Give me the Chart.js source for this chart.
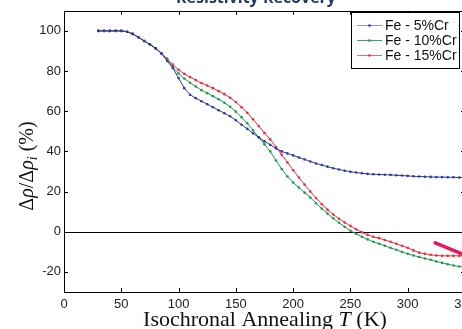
<!DOCTYPE html>
<html>
<head>
<meta charset="utf-8">
<script src="https://cdn.jsdelivr.net/npm/chart.js@4.4.1/dist/chart.umd.min.js"></script>
<style>
  html, body { margin: 0; padding: 0; background: #fff; overflow: hidden; }
  #wrap { position: absolute; left: 0; top: 0; width: 500px; height: 329px; }
</style>
</head>
<body>
<div id="wrap"><canvas id="chart" width="500" height="329"></canvas></div>
<script>
// isochronal annealing temperatures (K), one point every 5 K
const temps = [30, 35, 40, 45, 50, 55, 60, 65, 70, 75, 80, 85, 90, 95, 100, 105, 110, 115, 120, 125,
    130, 135, 140, 145, 150, 155, 160, 165, 170, 175, 180, 185, 190, 195, 200, 205, 210, 215, 220, 225,
    230, 235, 240, 245, 250, 255, 260, 265, 270, 275, 280, 285, 290, 295, 300, 305, 310, 315, 320, 325,
    330, 335, 340, 345, 350];

// resistivity recovery (%)
const fe5 = [100, 100, 100, 100, 100, 99.6, 98.5, 96.8, 95, 93.3, 91.3, 88.8, 85, 81.5, 76.5, 71.5, 68.2, 66.5, 65, 63.5,
    62, 60.5, 59, 57.5, 55.5, 53.3, 51.2, 49, 47, 45, 43.3, 41.5, 40, 39, 38, 37, 36, 35, 34, 33.2,
    32.4, 31.6, 31, 30.4, 29.9, 29.5, 29.1, 28.8, 28.6, 28.5, 28.4, 28.3, 28.1, 28, 27.8, 27.6, 27.5, 27.4, 27.3, 27.2,
    27.2, 27.1, 27.1, 27, 27];
const fe10 = [100, 100, 100, 100, 100, 99.6, 98.5, 96.8, 95, 93.3, 91.3, 88.8, 85.8, 82, 78.8, 76.3, 74.2, 72.3, 70.5, 69,
    67.5, 66, 64.2, 62.2, 59.8, 57, 54, 50.5, 47, 43.5, 40, 35.5, 31.2, 27.5, 24.5, 22, 19.5, 17, 14.2, 11.5,
    9, 6.7, 4.5, 2.5, 0.5, -1, -2.5, -3.8, -5, -6, -7, -8, -9, -10, -11, -11.8, -12.6, -13.3, -14, -14.8,
    -15.5, -16.2, -16.8, -17.3, -17.8];
const fe15 = [100, 100, 100, 100, 100, 99.6, 98.5, 96.8, 95, 93.3, 91.3, 88.9, 86.2, 83.2, 80.6, 78.6, 77, 75.5, 74, 72.8,
    71.5, 70, 68.5, 66.7, 64.6, 62, 59.2, 56, 52.6, 49.2, 46, 42.2, 38.3, 34.5, 30.6, 27, 23.5, 20, 16.8, 13.7,
    11, 8.6, 6.5, 4.6, 2.9, 1.2, -0.3, -1.5, -2.5, -3.2, -4.1, -5, -6, -7, -8, -9.3, -10.4, -11, -11.5, -11.8,
    -12, -12, -12, -12, -12];

// the thick marker stroke at lower right (T, value)
const markT = [324, 350];
const markV = [-5.5, -11.6];

const xTicks = [0, 50, 100, 150, 200, 250, 300, 350];
const yTicks = [-20, 0, 20, 40, 60, 80, 100];
const names  = ['Fe - 5%Cr', 'Fe - 10%Cr', 'Fe - 15%Cr'];

const lineColors   = ['#2e3a9c', '#1f9a4e', '#ec2a3c'];
const legendColors = ['#8a90d6', '#3aa660', '#f26670'];

const toPoints = (xs, vs) => vs.map((v, i) => ({x: xs[i], y: v}));

const frame = {
    id: 'frame',
    beforeDatasetsDraw(chart) {
        const {ctx, chartArea: a, scales: {y}} = chart;
        const y0 = Math.round(y.getPixelForValue(0)) + 0.5;
        ctx.save();
        ctx.strokeStyle = '#000';
        ctx.lineWidth = 1;
        ctx.beginPath();
        ctx.moveTo(a.left, y0);
        ctx.lineTo(a.right, y0);
        ctx.stroke();
        ctx.restore();
    },
    afterDraw(chart) {
        const {ctx, chartArea: a, scales: {x, y}} = chart;
        ctx.save();
        ctx.strokeStyle = '#000';
        ctx.lineWidth = 1;
        // box
        ctx.strokeRect(Math.round(a.left) + 0.5, Math.round(a.top) + 0.5,
            Math.round(a.right - a.left), Math.round(a.bottom - a.top));
        // inward ticks
        ctx.beginPath();
        xTicks.forEach(v => {
            const px = Math.round(x.getPixelForValue(v)) + 0.5;
            ctx.moveTo(px, a.bottom); ctx.lineTo(px, a.bottom - 4);
            ctx.moveTo(px, a.top);    ctx.lineTo(px, a.top + 4);
        });
        yTicks.forEach(v => {
            const py = Math.round(y.getPixelForValue(v)) + 0.5;
            ctx.moveTo(a.left, py);  ctx.lineTo(a.left + 4, py);
            ctx.moveTo(a.right, py); ctx.lineTo(a.right - 4, py);
        });
        ctx.stroke();

        // legend
        const lx = 351, ly = 12, lw = 108, lh = 56;
        ctx.fillStyle = '#fff';
        ctx.fillRect(lx, ly, lw, lh);
        ctx.strokeRect(lx + 0.5, ly + 0.5, lw, lh);
        ctx.font = '14px "Liberation Sans", Arial, sans-serif';
        ctx.textBaseline = 'middle';
        names.forEach((n, i) => {
            const ry = ly + 13.5 + i * 15;
            ctx.strokeStyle = legendColors[i];
            ctx.beginPath();
            ctx.moveTo(357, ry); ctx.lineTo(382, ry);
            ctx.stroke();
            ctx.fillStyle = lineColors[i];
            ctx.beginPath();
            ctx.arc(369.5, ry, 1.3, 0, Math.PI * 2);
            ctx.fill();
            ctx.fillStyle = '#111';
            ctx.fillText(n, 385, ry + 1);
        });

        // title (cropped at the top of the picture)
        ctx.fillStyle = '#1f3a6c';
        ctx.font = 'bold 16px "Open Sans", sans-serif';
        ctx.textAlign = 'center';
        ctx.textBaseline = 'alphabetic';
        ctx.fillText('Resistivity Recovery', 256, 3);

        // x axis title
        const serif = '"Liberation Serif", "DejaVu Serif", serif';
        const xParts = [
            ['Isochronal Annealing ', '22px ' + serif],
            ['T', 'italic 22px ' + serif],
            [' (K)', '22px ' + serif]
        ];
        let w = 0;
        xParts.forEach(p => { ctx.font = p[1]; w += ctx.measureText(p[0]).width; });
        let cx = 265 - w / 2;
        ctx.textAlign = 'left';
        ctx.fillStyle = '#111';
        xParts.forEach(p => {
            ctx.font = p[1];
            ctx.fillText(p[0], cx, 326);
            cx += ctx.measureText(p[0]).width;
        });

        // y axis title, rotated
        const yParts = [
            ['\u0394', '20px ' + serif, 0],
            ['\u03c1', 'italic 20px ' + serif, 0],
            ['/\u0394', '20px ' + serif, 0],
            ['\u03c1', 'italic 20px ' + serif, 0],
            ['i', 'italic 14px ' + serif, 4],
            [' (%)', '20px ' + serif, 0]
        ];
        w = 0;
        yParts.forEach(p => { ctx.font = p[1]; w += ctx.measureText(p[0]).width; });
        ctx.translate(33, 166);
        ctx.rotate(-Math.PI / 2);
        cx = -w / 2;
        yParts.forEach(p => {
            ctx.font = p[1];
            ctx.fillText(p[0], cx, p[2]);
            cx += ctx.measureText(p[0]).width;
        });
        ctx.restore();
    }
};

const makeSet = (label, vals, color) => ({
    label: label,
    data: toPoints(temps, vals),
    borderColor: color,
    backgroundColor: color,
    borderWidth: 1,
    pointRadius: 1.3,
    pointBorderWidth: 0,
    pointBackgroundColor: color,
    tension: 0
});

const config = {
    type: 'line',
    data: {
        datasets: [
            makeSet(names[0], fe5, lineColors[0]),
            makeSet(names[1], fe10, lineColors[1]),
            makeSet(names[2], fe15, lineColors[2]),
            {
                label: 'mark',
                data: toPoints(markT, markV),
                borderColor: '#e8185c',
                borderWidth: 3.5,
                pointRadius: 0,
                borderCapStyle: 'round'
            }
        ]
    },
    options: {
        responsive: false,
        animation: false,
        devicePixelRatio: 1,
        layout: {padding: {top: 10, right: 35, left: 0, bottom: 0}},
        plugins: {legend: {display: false}, tooltip: {enabled: false}},
        scales: {
            x: {
                type: 'linear',
                min: 0,
                max: 350,
                afterBuildTicks: s => { s.ticks = xTicks.map(v => ({value: v})); },
                afterFit: s => { s.height = 37; },
                grid: {display: false, drawTicks: false},
                border: {display: false},
                ticks: {
                    padding: 5,
                    color: '#222',
                    font: {family: '"Liberation Sans", Arial, sans-serif', size: 13},
                    maxRotation: 0
                }
            },
            y: {
                type: 'linear',
                min: -30,
                max: 110,
                afterBuildTicks: s => { s.ticks = yTicks.map(v => ({value: v})); },
                afterFit: s => { s.width = 64; },
                grid: {display: false, drawTicks: false},
                border: {display: false},
                ticks: {
                    padding: 3,
                    color: '#222',
                    font: {family: '"Liberation Sans", Arial, sans-serif', size: 13}
                }
            }
        }
    },
    plugins: [frame]
};

let chart = new Chart(document.getElementById('chart'), config);
</script>
</body>
</html>
